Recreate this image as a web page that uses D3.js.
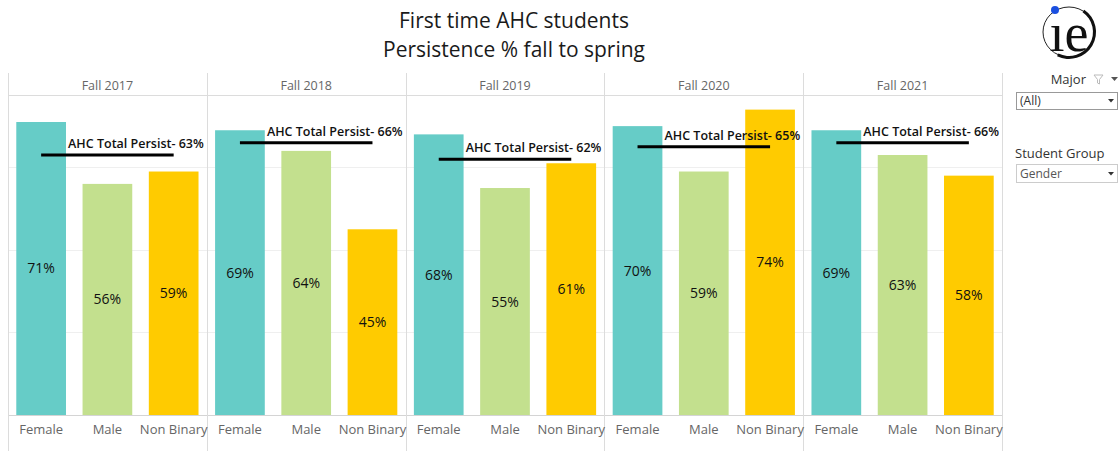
<!DOCTYPE html>
<html>
<head>
<meta charset="utf-8">
<script src="https://cdn.jsdelivr.net/npm/d3@7"></script>
<style>
  body { margin: 0; background: #fff; }
  svg { display: block; font-family: "Open Sans", "Noto Sans", sans-serif; }
</style>
</head>
<body>
<div id="chart"></div>
<script>
// data
var terms = ["Fall 2017", "Fall 2018", "Fall 2019", "Fall 2020", "Fall 2021"];
var genders = ["Female", "Male", "Non Binary"];
var female = [71, 69, 68, 70, 69];
var male = [56, 64, 55, 59, 63];
var nonBinary = [59, 45, 61, 74, 58];
var totals = [63, 66, 62, 65, 66];
var gridTicks = [20, 40, 60];

var colors = { "Female": "#66ccc7", "Male": "#c3e08e", "Non Binary": "#ffcb00" };

var width = 1119, height = 451;

var svg = d3.select("#chart")
  .append("svg")
    .attr("width", width)
    .attr("height", height);

// title
svg.append("text")
  .attr("x", 514).attr("y", 28)
  .attr("text-anchor", "middle")
  .style("font-size", "21px").style("fill", "#1a1a1a")
  .text("First time AHC students");
svg.append("text")
  .attr("x", 514).attr("y", 57)
  .attr("text-anchor", "middle")
  .style("font-size", "21px").style("fill", "#1a1a1a")
  .text("Persistence % fall to spring");

// scales
var panel = d3.scaleBand()
  .domain(terms)
  .range([8, 1002]);

var x = d3.scaleBand()
  .domain(genders)
  .range([0, panel.bandwidth()])
  .paddingInner(0.25)
  .paddingOuter(0.125);

var y = d3.scaleLinear()
  .domain([0, 77.3])
  .range([415, 96]);

// rows of data per panel
var rows = terms.map(function(t, i) {
  return {
    term: t,
    total: totals[i],
    bars: [
      { g: "Female", v: female[i] },
      { g: "Male", v: male[i] },
      { g: "Non Binary", v: nonBinary[i] }
    ]
  };
});

// gridlines
svg.append("g")
  .selectAll("line")
  .data(gridTicks)
  .enter()
  .append("line")
    .attr("x1", 8).attr("x2", 1002)
    .attr("y1", function(d) { return Math.round(y(d)) + 0.5; })
    .attr("y2", function(d) { return Math.round(y(d)) + 0.5; })
    .attr("stroke", "#efefef");

// header line and baseline
svg.append("line")
  .attr("x1", 8).attr("x2", 1002).attr("y1", 95.5).attr("y2", 95.5)
  .attr("stroke", "#dcdcdc");
svg.append("line")
  .attr("x1", 8).attr("x2", 1002).attr("y1", y(0) + 0.5).attr("y2", y(0) + 0.5)
  .attr("stroke", "#d4d4d4");

// panel separators
var seps = terms.map(function(t) { return panel(t); }).concat([panel.range()[1]]);
svg.append("g")
  .selectAll("line")
  .data(seps)
  .enter()
  .append("line")
    .attr("x1", function(d) { return Math.round(d) + 0.5; })
    .attr("x2", function(d) { return Math.round(d) + 0.5; })
    .attr("y1", 73).attr("y2", 451)
    .attr("stroke", "#dcdcdc");

var panels = svg.selectAll(".panel")
  .data(rows)
  .enter()
  .append("g")
    .attr("class", "panel")
    .attr("transform", function(d) { return "translate(" + panel(d.term) + ",0)"; });

// panel headers
panels.append("text")
  .attr("x", panel.bandwidth() / 2)
  .attr("y", 90)
  .attr("text-anchor", "middle")
  .style("font-size", "12.5px").style("fill", "#666")
  .text(function(d) { return d.term; });

// bars
panels.selectAll(".bar")
  .data(function(d) { return d.bars; })
  .enter()
  .append("rect")
    .attr("class", "bar")
    .attr("x", function(d) { return x(d.g); })
    .attr("y", function(d) { return y(d.v); })
    .attr("width", x.bandwidth())
    .attr("height", function(d) { return y(0) - y(d.v); })
    .attr("fill", function(d) { return colors[d.g]; });

// value labels
panels.selectAll(".val")
  .data(function(d) { return d.bars; })
  .enter()
  .append("text")
    .attr("class", "val")
    .attr("x", function(d) { return x(d.g) + x.bandwidth() / 2; })
    .attr("y", function(d) { return (y(d.v) + y(0)) / 2 + 5; })
    .attr("text-anchor", "middle")
    .style("font-size", "14px").style("fill", "#111")
    .text(function(d) { return d.v + "%"; });

// category axis
panels.each(function() {
  var g = d3.select(this).append("g")
    .attr("transform", "translate(0," + (y(0) + 1) + ")")
    .call(d3.axisBottom(x).tickSize(0).tickPadding(9));
  g.select(".domain").remove();
  g.selectAll("text")
    .style("font-size", "13px")
    .style("fill", "#666")
    .style("font-family", "\"Open Sans\", sans-serif");
});

// total reference line
panels.append("line")
  .attr("x1", x("Female") + x.bandwidth() / 2)
  .attr("x2", x("Non Binary") + x.bandwidth() / 2)
  .attr("y1", function(d) { return y(d.total); })
  .attr("y2", function(d) { return y(d.total); })
  .attr("stroke", "#000")
  .attr("stroke-width", 3);

panels.append("text")
  .attr("x", panel.bandwidth() - 3)
  .attr("y", function(d) { return y(d.total) - 7; })
  .attr("text-anchor", "end")
  .style("font-size", "12.5px").style("font-weight", 600).style("fill", "#111")
  .text(function(d) { return "AHC Total Persist- " + d.total + "%"; });

// filter controls on the right
var side = svg.append("g");
side.append("text")
  .attr("x", 1086).attr("y", 84)
  .attr("text-anchor", "end")
  .style("font-size", "13px").style("fill", "#333")
  .text("Major");
side.append("path")
  .attr("d", "M1094,75 L1103,75 L1099.5,79.5 L1099.5,84 L1097.5,83 L1097.5,79.5 Z")
  .attr("fill", "none").attr("stroke", "#bbb");
side.append("path")
  .attr("d", "M1111,77 L1118,77 L1114.5,81 Z")
  .attr("fill", "#555");

side.append("rect")
  .attr("x", 1016.5).attr("y", 92.5).attr("width", 101).attr("height", 17)
  .attr("fill", "#fff").attr("stroke", "#999");
side.append("text")
  .attr("x", 1020).attr("y", 105)
  .style("font-size", "12px").style("fill", "#333")
  .text("(All)");
side.append("path")
  .attr("d", "M1108,99 L1114,99 L1111,102.5 Z")
  .attr("fill", "#333");

side.append("text")
  .attr("x", 1015).attr("y", 158)
  .style("font-size", "13px").style("fill", "#333")
  .text("Student Group");
side.append("rect")
  .attr("x", 1016.5).attr("y", 164.5).attr("width", 101).attr("height", 18)
  .attr("fill", "#fff").attr("stroke", "#ccc");
side.append("text")
  .attr("x", 1020).attr("y", 178)
  .style("font-size", "12px").style("fill", "#555")
  .text("Gender");
side.append("path")
  .attr("d", "M1108,172 L1114,172 L1111,175.5 Z")
  .attr("fill", "#333");

// logo
var logo = svg.append("g");
logo.append("ellipse")
  .attr("cx", 1069).attr("cy", 32).attr("rx", 26).attr("ry", 25)
  .attr("fill", "none").attr("stroke", "#222").attr("stroke-width", 1);
logo.append("path")
  .attr("d", d3.arc()({ innerRadius: 24, outerRadius: 27, startAngle: 0.6, endAngle: 3.6 }))
  .attr("transform", "translate(1069,32)")
  .attr("fill", "#111");
logo.append("text")
  .attr("x", 1069).attr("y", 51)
  .attr("text-anchor", "middle")
  .style("font-family", "\"Liberation Serif\", \"DejaVu Serif\", serif")
  .style("font-size", "54px").style("fill", "#111")
  .text("ıe");
logo.append("circle")
  .attr("cx", 1055).attr("cy", 10).attr("r", 4)
  .attr("fill", "#1a4fe0");
</script>
</body>
</html>
